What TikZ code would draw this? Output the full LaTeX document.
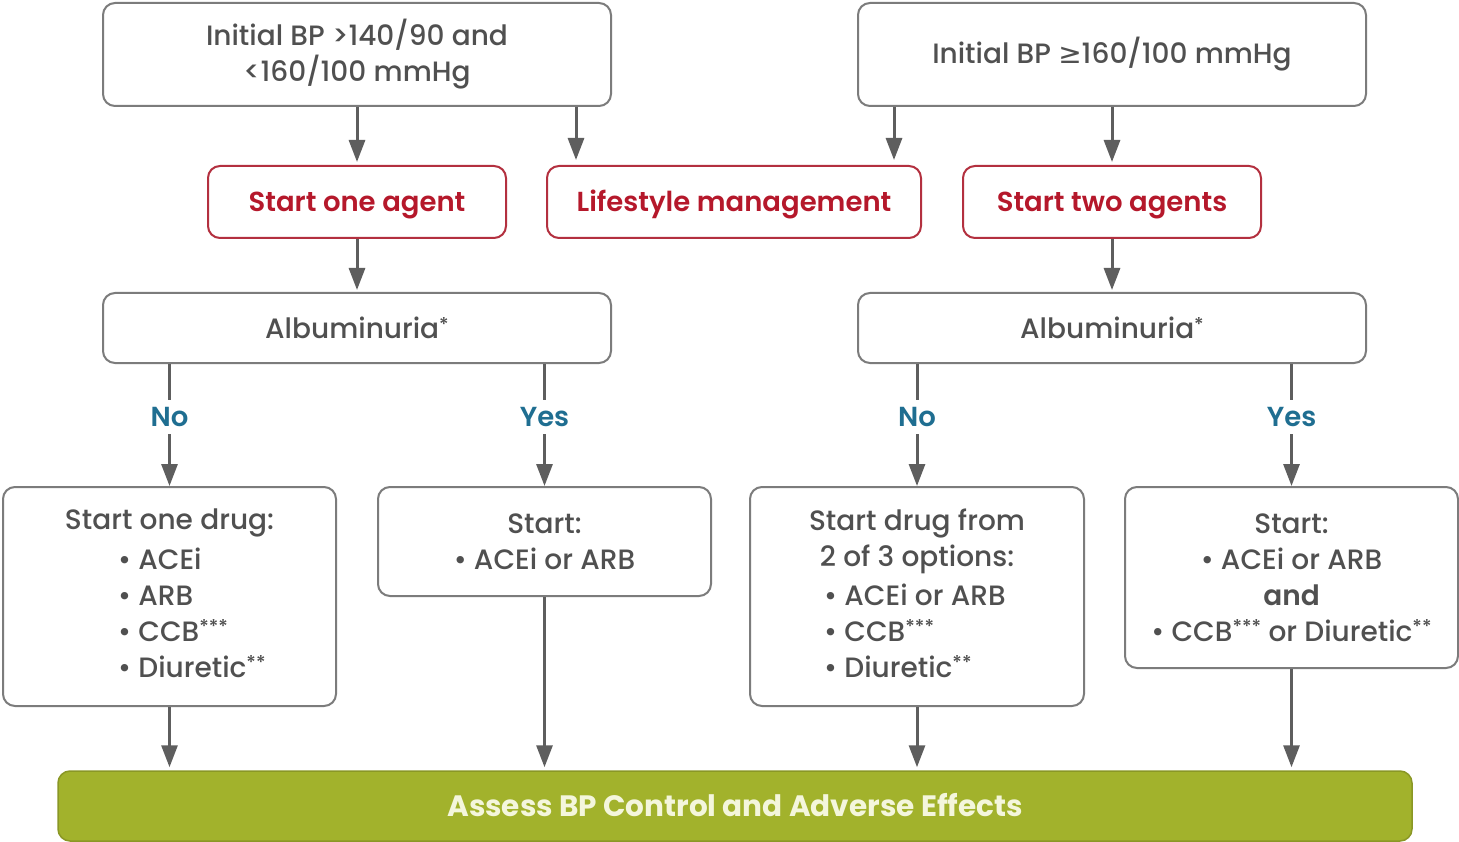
\documentclass[tikz,border=0pt]{standalone}
\usepackage{fontspec}
\setmainfont{Poppins}[UprightFont={* Medium}, BoldFont={* SemiBold}]
\newfontfamily\boldfont{Poppins}[UprightFont={* Bold}]
\newfontfamily\symfont{DejaVu Sans}
\usetikzlibrary{arrows.meta}
\definecolor{linegray}{HTML}{5E5E5E}
\definecolor{boxgray}{HTML}{7C7C7C}
\definecolor{txtgray}{HTML}{505050}
\definecolor{redtxt}{HTML}{B5182B}
\definecolor{redline}{HTML}{B3303F}
\definecolor{bluetxt}{HTML}{1F6E91}
\definecolor{greenbar}{HTML}{A2B22C}
\definecolor{greentxt}{HTML}{F4F6DC}
\newcommand\stars[1]{\raisebox{0.5ex}{\fontsize{19}{19}\selectfont#1}}
\begin{document}
\begin{tikzpicture}[x=1pt,y=-1pt,
  base/.style={font=\fontsize{28}{36}\selectfont, text=txtgray, inner sep=0pt},
  box/.style={base, draw=boxgray, line width=2pt, rounded corners=12pt, fill=white, align=center},
  redbox/.style={box, draw=redline, text=redtxt, font=\fontsize{27.5}{36}\selectfont\bfseries, text height=24pt, text depth=4pt},
  txt/.style={base, align=center},
  bullets/.style={base, align=left, anchor=west},
  yn/.style={base, text=bluetxt, font=\fontsize{27.5}{36}\selectfont\bfseries, minimum height=34pt},
  conn/.style={draw=linegray, line width=3pt},
  arr/.style={conn, -{Triangle[length=22pt,width=16pt]}},
  greenbox/.style={fill=greenbar, draw=greenbar!85!black, line width=1.5pt, rounded corners=12pt, text=greentxt, font=\fontsize{29.5}{36}\selectfont\boldfont, inner sep=0pt, text height=22pt, text depth=2pt}
]
\useasboundingbox (0,0) rectangle (1459,842);
\fill[white] (0,0) rectangle (1459,842);

% top boxes
\node[box, minimum width=508pt, minimum height=103pt] (tl) at (357,54.5) {Initial BP >140/90 and\\<160/100 mmHg};
\node[box, minimum width=508pt, minimum height=103pt] (tr) at (1112,54.5) {Initial BP {\symfont ≥}160/100 mmHg};

% red boxes
\node[redbox, minimum width=298pt, minimum height=72pt] (s1) at (357,202) {Start one agent};
\node[redbox, minimum width=374pt, minimum height=72pt] (life) at (734,202) {Lifestyle management};
\node[redbox, minimum width=298pt, minimum height=72pt] (s2) at (1112,202) {Start two agents};

% albuminuria
\node[box, minimum width=508pt, minimum height=70pt] (albL) at (357,328) {Albuminuria\stars{*}};
\node[box, minimum width=508pt, minimum height=70pt] (albR) at (1112,328) {Albuminuria\stars{*}};

% yes/no labels
\node[yn] (noL) at (169.5,417) {No};
\node[yn] (yesL) at (544.5,417) {Yes};
\node[yn] (noR) at (917,417) {No};
\node[yn] (yesR) at (1291.5,417) {Yes};

% drug boxes
\node[box, minimum width=333pt, minimum height=219pt] (b1) at (169.5,596.5) {};
\node[txt] (b1h) at (169.5,523) {Start one drug:};
\node[bullets] (b1l) at (118,613) {• ACEi\\• ARB\\• CCB\stars{***}\\• Diuretic\stars{**}};

\node[box, minimum width=333pt, minimum height=109pt] (b2) at (544.5,541.5) {Start:\\• ACEi or ARB};

\node[box, minimum width=334pt, minimum height=219pt] (b3) at (917,596.5) {};
\node[txt] (b3h) at (917,541) {Start drug from\\2 of 3 options:};
\node[bullets] (b3l) at (824,631) {• ACEi or ARB\\• CCB\stars{***}\\• Diuretic\stars{**}};

\node[box, minimum width=333pt, minimum height=181pt] (b4) at (1291.5,577.5) {Start:\\• ACEi or ARB\\\textbf{and}\\• CCB\stars{***} or Diuretic\stars{**}};

% green bar
\node[greenbox, minimum width=1354pt, minimum height=70pt] (assess) at (735,806) {Assess BP Control and Adverse Effects};

% helper coordinates
\coordinate (x576) at (576,0);
\coordinate (x894) at (894,0);

% connectors top
\draw[arr, shorten >=3pt] (tl.south) -- (s1.north);
\draw[arr, shorten >=5pt] (tl.south -| x576) -- (life.north -| x576);
\draw[arr, shorten >=5pt] (tr.south -| x894) -- (life.north -| x894);
\draw[arr, shorten >=3pt] (tr.south) -- (s2.north);
\draw[arr, shorten >=2pt] (s1.south) -- (albL.north);
\draw[arr, shorten >=2pt] (s2.south) -- (albR.north);

% albuminuria branches
\draw[conn] (albL.south -| noL) -- (noL.north);
\draw[arr] (noL.south) -- (b1.north);
\draw[conn] (albL.south -| yesL) -- (yesL.north);
\draw[arr] (yesL.south) -- (b2.north);
\draw[conn] (albR.south -| noR) -- (noR.north);
\draw[arr] (noR.south) -- (b3.north);
\draw[conn] (albR.south -| yesR) -- (yesR.north);
\draw[arr] (yesR.south) -- (b4.north);

% to assessment
\draw[arr, shorten >=3pt] (b1.south) -- (assess.north -| b1.south);
\draw[arr, shorten >=3pt] (b2.south) -- (assess.north -| b2.south);
\draw[arr, shorten >=3pt] (b3.south) -- (assess.north -| b3.south);
\draw[arr, shorten >=3pt] (b4.south) -- (assess.north -| b4.south);
\end{tikzpicture}
\end{document}
